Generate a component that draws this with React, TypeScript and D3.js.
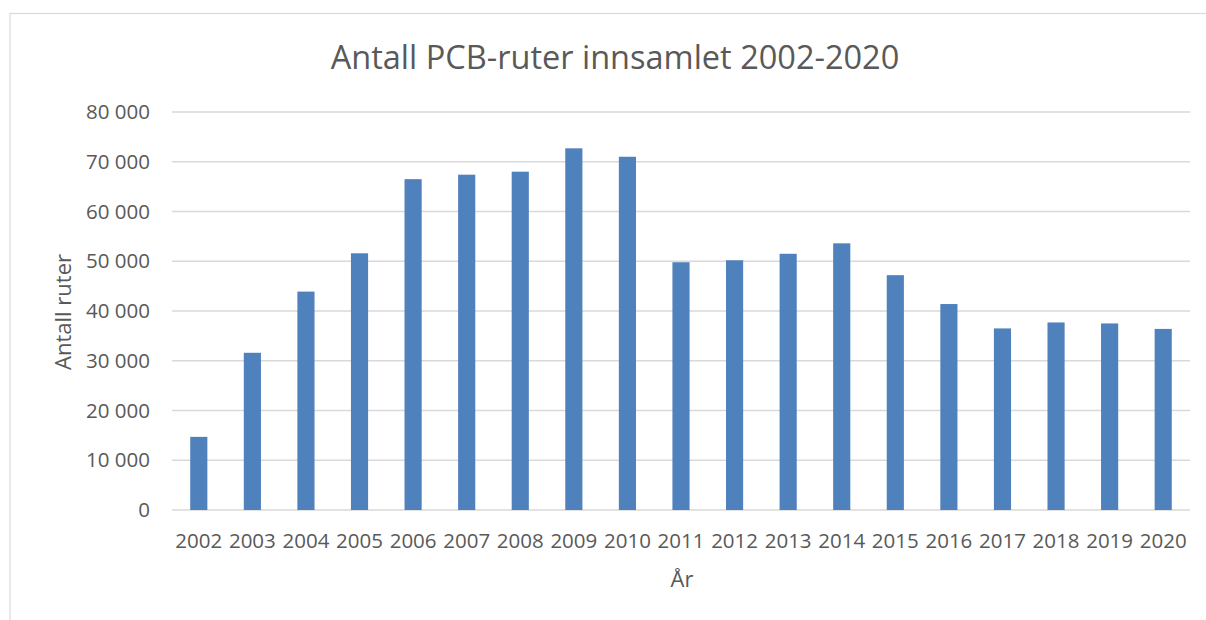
import * as d3 from 'd3'
import React from 'react'

const years = ['2002', '2003', '2004', '2005', '2006', '2007', '2008', '2009', '2010', '2011',
    '2012', '2013', '2014', '2015', '2016', '2017', '2018', '2019', '2020'];
const ruter = [14700, 31600, 43900, 51600, 66500, 67400, 68000, 72700, 71000, 49800,
    50200, 51500, 53600, 47200, 41400, 36500, 37700, 37500, 36400];
const yTicks = [0, 10000, 20000, 30000, 40000, 50000, 60000, 70000, 80000];

const width = 1206;
const height = 620;
const margin = { top: 112, right: 16, bottom: 110, left: 172 };
const font = "'Open Sans', sans-serif";
const textColor = '#595959';

const fmt = (v: number) => d3.format(',')(v).replace(/,/g, ' ');

const App = () => {
    const innerWidth = width - margin.left - margin.right;
    const innerHeight = height - margin.top - margin.bottom;
    const xScale = d3.scaleBand().domain(years).range([0, innerWidth]).paddingInner(0.68).paddingOuter(0.34);
    const yScale = d3.scaleLinear().domain([0, 80000]).range([innerHeight, 0]);

    return (
        <svg width={width} height={height} style={{ position: 'absolute', left: 0, top: 0 }}>
            <rect x={0} y={0} width={width} height={height} fill='#fff' />
            <rect x={10} y={13.5} width={1210} height={640} fill='none' stroke='#d9d9d9' strokeWidth={1.2} />
            <text x={615} y={69} textAnchor='middle' fontFamily={font} fontSize={32.5} fill={textColor}>
                Antall PCB-ruter innsamlet 2002-2020
            </text>
            <g transform={`translate(${margin.left},${margin.top})`}>
                {yTicks.map(t => (
                    <g key={t} transform={`translate(0,${yScale(t)})`}>
                        <line x1={0} x2={innerWidth} stroke='#d9d9d9' strokeWidth={1.3} />
                        <text x={-22} dy='0.35em' textAnchor='end' fontFamily={font} fontSize={20.5} fill={textColor}>{fmt(t)}</text>
                    </g>
                ))}
                {years.map((y, i) => (
                    <rect key={y} x={xScale(y)} y={yScale(ruter[i])} width={xScale.bandwidth()}
                        height={innerHeight - yScale(ruter[i])} fill='#4f81bd' />
                ))}
                {years.map(y => (
                    <text key={y} x={(xScale(y) ?? 0) + xScale.bandwidth() / 2} y={innerHeight + 38}
                        textAnchor='middle' fontFamily={font} fontSize={20.5} fill={textColor}>{y}</text>
                ))}
                <text x={innerWidth / 2 + 1} y={innerHeight + 77} textAnchor='middle' fontFamily={font} fontSize={22} fill={textColor}>År</text>
            </g>
            <text transform={`translate(71,${margin.top + innerHeight / 2 + 1}) rotate(-90)`} textAnchor='middle'
                fontFamily={font} fontSize={22} fill={textColor}>Antall ruter</text>
        </svg>
    );
};

export default App;
